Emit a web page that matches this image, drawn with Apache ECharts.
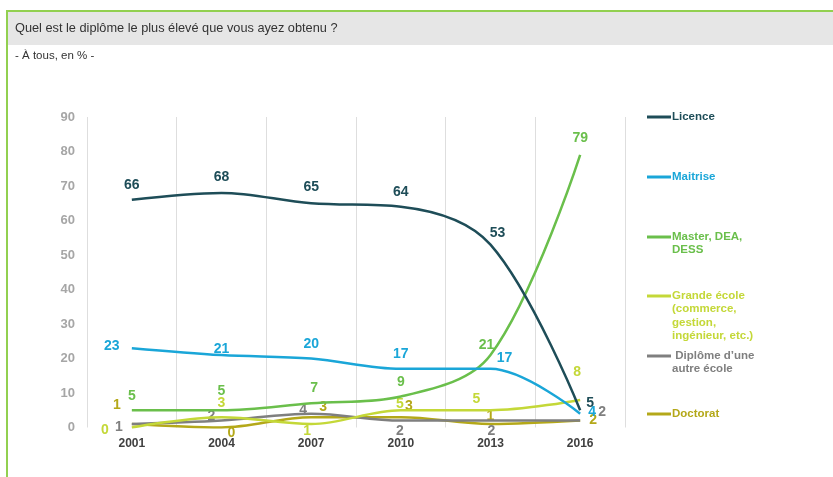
<!DOCTYPE html>
<html>
<head>
<meta charset="utf-8">
<script src="https://cdn.jsdelivr.net/npm/echarts@6/dist/echarts.min.js"></script>
<style>html,body{margin:0;padding:0;background:#fff;}#c{width:833px;height:477px;}</style>
</head>
<body>
<div id="c"></div>
<script>
// ---- data ----
var years = ['2001', '2004', '2007', '2010', '2013', '2016'];
var yTicks = [0, 10, 20, 30, 40, 50, 60, 70, 80, 90];
var seriesNames = ['Licence', 'Maitrise', 'Master, DEA, DESS', 'Grande école (commerce, gestion, ingénieur, etc.)', 'Diplôme d’une autre école', 'Doctorat'];
var licence = [66, 68, 65, 64, 53, 5];
var maitrise = [23, 21, 20, 17, 17, 4];
var master = [5, 5, 7, 9, 21, 79];
var grandeEcole = [0, 3, 1, 5, 5, 8];
var autreEcole = [1, 2, 4, 2, 2, 2];
var doctorat = [1, 0, 3, 3, 1, 2];

// ---- styling (kept apart from the data) ----
var FONT = '"Liberation Sans", Arial, sans-serif';
var colors = ['#1e4d58', '#1aa6d8', '#6abf4b', '#c4d838', '#7f7f7f', '#b4a819'];
var legendText = ['Licence', 'Maitrise', 'Master, DEA,\nDESS', 'Grande école\n(commerce,\ngestion,\ningénieur, etc.)', ' Diplôme d’une\nautre école', 'Doctorat'];
var legendCenters = [117, 177, 237, 296, 356, 414];
var labelOffsets = [
  [[0,-15],[0,-16],[0,-16],[0,-15],[7,-12],[10,-7]],
  [[-20,-2],[0,-6],[0,-14],[0,-15],[14,-11],[12,-2]],
  [[0,-14],[0,-19],[3,-15],[0,-14],[-4,-10],[0,-17]],
  [[-27,3],[0,-14],[-4,7],[-1,-6],[-14,-11],[-3,-28]],
  [[-13,3],[-10,-4],[-8,-4],[-1,11],[1,11],[22,-8]],
  [[-15,-19],[10,6],[12,-10],[8,-11],[0,-8],[13,0]]
];
var allData = [licence, maitrise, master, grandeEcole, autreEcole, doctorat];

var chart = echarts.init(document.getElementById('c'), null, {renderer: 'canvas'});

var series = allData.map(function (arr, si) {
  return {
    name: seriesNames[si],
    type: 'line',
    smooth: 0.35,
    symbol: 'circle',
    symbolSize: 0.01,
    showSymbol: true,
    showAllSymbol: true,
    lineStyle: {color: colors[si], width: 2.5},
    itemStyle: {color: colors[si]},
    emphasis: {disabled: true},
    z: 10 - si,
    data: arr.map(function (v, i) {
      return {
        value: v,
        label: {
          show: true,
          position: labelOffsets[si][i],
          align: 'center',
          verticalAlign: 'middle',
          color: colors[si],
          fontFamily: FONT,
          fontWeight: 'bold',
          fontSize: 14
        }
      };
    }),
    labelLayout: {hideOverlap: false}
  };
});

var LH = 13.3;
var legends = seriesNames.map(function (name, si) {
  var n = legendText[si].split('\n').length;
  var pad = '';
  for (var k = 1; k < n; k++) { pad += ' \n'; }
  return {
    data: [name],
    left: 647,
    top: legendCenters[si] - (2 * n - 1) * LH / 2,
    padding: 0,
    itemWidth: 24,
    itemHeight: 3,
    itemGap: 0,
    icon: 'rect',
    selectedMode: false,
    formatter: function () { return pad + legendText[si]; },
    textStyle: {
      color: colors[si],
      fontFamily: FONT,
      fontWeight: 'bold',
      fontSize: 11.5,
      lineHeight: LH,
      padding: [0, 0, 0, -4]
    }
  };
});

chart.setOption({
  animation: false,
  backgroundColor: '#ffffff',
  color: colors,
  title: [
    {text: 'Quel est le diplôme le plus élevé que vous ayez obtenu ?', left: 15, top: 22, padding: 0,
     textStyle: {fontFamily: FONT, fontSize: 12.75, fontWeight: 'normal', color: '#333333'}},
    {text: '- À tous, en % -', left: 15, top: 50, padding: 0,
     textStyle: {fontFamily: FONT, fontSize: 11.5, fontWeight: 'normal', color: '#333333'}}
  ],
  graphic: [
    {type: 'rect', z: -10, shape: {x: 8, y: 12, width: 830, height: 33}, style: {fill: '#e6e6e6'}},
    {type: 'rect', z: -9, shape: {x: 6, y: 10, width: 830, height: 2}, style: {fill: '#92d050'}},
    {type: 'rect', z: -9, shape: {x: 6, y: 10, width: 2, height: 470}, style: {fill: '#92d050'}}
  ],
  legend: legends,
  grid: {left: 87, right: 208, top: 117, bottom: 49.5, containLabel: false},
  xAxis: {
    type: 'category',
    data: years,
    boundaryGap: true,
    axisLine: {show: false},
    axisTick: {show: false},
    axisLabel: {color: '#404040', fontFamily: FONT, fontWeight: 'bold', fontSize: 12, margin: 10},
    splitLine: {show: true, lineStyle: {color: '#dedede', width: 1}}
  },
  yAxis: {
    type: 'value',
    min: yTicks[0],
    max: yTicks[yTicks.length - 1],
    interval: yTicks[1] - yTicks[0],
    axisLine: {show: false},
    axisTick: {show: false},
    splitLine: {show: false},
    axisLabel: {color: '#a6a6a6', fontFamily: FONT, fontWeight: 'bold', fontSize: 13, margin: 12}
  },
  series: series
});
</script>
</body>
</html>
